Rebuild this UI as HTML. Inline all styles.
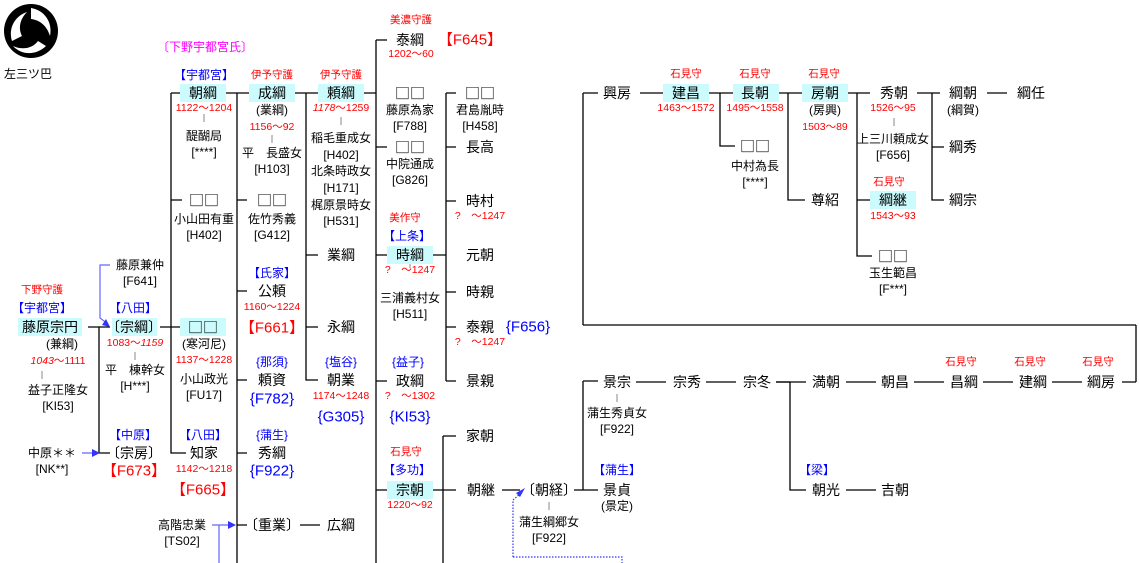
<!DOCTYPE html>
<html><head><meta charset="utf-8">
<style>
html,body{margin:0;padding:0;background:#fff;}
#c{position:relative;width:1139px;height:563px;overflow:hidden;font-family:"Liberation Sans","Noto Sans CJK JP",sans-serif;color:#000;}
#c i{position:absolute;font-style:normal;white-space:nowrap;transform:translate(-50%,-50%);line-height:1;}
.n{font-size:14px;}
.q{font-size:15px;font-family:"Noto Sans CJK JP",sans-serif !important;}
.s{font-size:12px;}
.d{font-size:10.5px;color:#f00;}
.r{color:#f00;}
.b{color:#00f;}
.m{color:#f0f;}
.big{font-size:15px;}
.h{position:absolute;background:#ccfbfe;width:46px;height:18px;}
svg{position:absolute;left:0;top:0;}
</style></head><body><div id="c">
<svg width="1139" height="563">
<circle cx="31" cy="31" r="27" fill="#000"/>
<g fill="#fff">
<path d="M31 8 C44 10 53 22 50 36 C47 26 40 20 31 19 Z"/>
<path d="M12 41 C8 28 15 16 27 12 C20 19 18 28 22 36 Z"/>
<path d="M46 46 C37 55 22 56 13 46 C22 50 32 49 38 41 Z"/>
</g>
<g stroke="#000" stroke-width="1.3" fill="none">
<path d="M171 93H180 M171 93V453H186 M171 200H182"/>
<path d="M160 327H180"/>
<path d="M88 327H110 M99 327V453H110"/>
<path d="M226 93H249 M237 93V563 M237 200H247 M237 291H247 M237 380H247 M237 453H247 M237 525H247"/>
<path d="M300 525H320"/>
<path d="M295 93H318 M306 93V380H318 M306 255H318 M306 327H318"/>
<path d="M364 93H376 M376 40V563 M376 40H387 M376 147H387 M376 255H387 M376 381H387 M376 490H387"/>
<path d="M433 255H446 M446 93V381 M446 93H456 M446 147H456 M446 201H456 M446 292H456 M446 327H456 M446 381H456"/>
<path d="M433 490H443 M443 436V563 M443 436H456 M443 490H456"/>
<path d="M502 490H520 M574 490H583 M583 381V490 M583 381H598 M583 490H598"/>
<path d="M636 382H666 M706 382H736 M776 382H806 M846 382H876 M914 382H944 M983 382H1013 M1052 382H1082 M1122 382H1136 M1136 325V382 M583 325H1136 M583 93V325 M583 93H598"/>
<path d="M776 382H790 M790 382V490H806 M846 490H876"/>
<path d="M640 93H663 M709 93H733 M720 93V146H735 M778 93H802 M788 93V200H805 M847 93H870 M857 93V256H872 M857 200H870 M917 93H940 M932 93V200H944 M932 147H944 M987 93H1007"/>
</g>
<g stroke="#888" stroke-width="1">
<path d="M204 114V122 M272 135V143 M341 117V125 M42 371V379 M135 352V360 M410 260V268 M549 502V510 M617 394V402 M894 118V126"/>
</g>
<g stroke="#66f" stroke-width="1.2" fill="none">
<path d="M110 265H100V318L108 324"/>
<path d="M82 453H96 M212 525H230 M219 525V563"/>
<path d="M513 557V500L520 494 M513 557H622V563" stroke-dasharray="1.5,1.5" stroke="#33f"/>
</g>
<g fill="#33f">
<path d="M110 327L102 325L106 319Z"/>
<path d="M100 453L92 449V457Z"/>
<path d="M236 525L228 521V529Z"/>
<path d="M525 488L516 493L520 497Z"/>
</g>
</svg>

<div class="h" style="left:180px;top:84px"></div>
<div class="h" style="left:249px;top:84px"></div>
<div class="h" style="left:318px;top:84px"></div>
<div class="h" style="left:180px;top:318px"></div>
<div class="h" style="left:18px;top:318px;width:64px"></div>
<div class="h" style="left:112px;top:318px;width:45px"></div>
<div class="h" style="left:387px;top:246px"></div>
<div class="h" style="left:387px;top:481px"></div>
<div class="h" style="left:663px;top:84px"></div>
<div class="h" style="left:733px;top:84px"></div>
<div class="h" style="left:802px;top:84px"></div>
<div class="h" style="left:870px;top:191px"></div>

<i class="s" style="left:28px;top:74px">左三ツ巴</i>
<i class="s m" style="left:205px;top:47px">〔下野宇都宮氏〕</i>

<i class="s b" style="left:204px;top:75px">【宇都宮】</i>
<i class="n" style="left:203px;top:93px">朝綱</i>
<i class="d" style="left:204px;top:108px">1122～1204</i>
<i class="s" style="left:204px;top:136px">醍醐局</i>
<i class="s" style="left:204px;top:152px">[****]</i>
<i class="q" style="left:204px;top:200px">□□</i>
<i class="s" style="left:204px;top:219px">小山田有重</i>
<i class="s" style="left:204px;top:235px">[H402]</i>
<i class="q" style="left:203px;top:327px">□□</i>
<i class="s" style="left:204px;top:344px">(寒河尼)</i>
<i class="d" style="left:204px;top:360px">1137～1228</i>
<i class="s" style="left:204px;top:379px">小山政光</i>
<i class="s" style="left:204px;top:395px">[FU17]</i>
<i class="s b" style="left:203px;top:435px">【八田】</i>
<i class="n" style="left:204px;top:453px">知家</i>
<i class="d" style="left:204px;top:469px">1142～1218</i>
<i class="big r" style="left:203px;top:490px">【F665】</i>

<i class="s" style="left:140px;top:265px">藤原兼仲</i>
<i class="s" style="left:140px;top:281px">[F641]</i>
<i class="d" style="left:42px;top:290px">下野守護</i>
<i class="s b" style="left:42px;top:308px">【宇都宮】</i>
<i class="n" style="left:50px;top:327px">藤原宗円</i>
<i class="s" style="left:62px;top:344px">(兼綱)</i>
<i class="d" style="left:58px;top:361px"><em>1043</em>～1111</i>
<i class="s" style="left:58px;top:390px">益子正隆女</i>
<i class="s" style="left:58px;top:406px">[KI53]</i>
<i class="s b" style="left:133px;top:308px">【八田】</i>
<i class="n" style="left:134px;top:327px">〔宗綱〕</i>
<i class="d" style="left:135px;top:343px">1083～<em>1159</em></i>
<i class="s" style="left:135px;top:370px">平　棟幹女</i>
<i class="s" style="left:135px;top:386px">[H***]</i>
<i class="s b" style="left:133px;top:435px">【中原】</i>
<i class="n" style="left:134px;top:453px">〔宗房〕</i>
<i class="big r" style="left:134px;top:471px">【F673】</i>
<i class="s" style="left:52px;top:453px">中原＊＊</i>
<i class="s" style="left:52px;top:469px">[NK**]</i>
<i class="s" style="left:182px;top:525px">高階忠業</i>
<i class="s" style="left:182px;top:541px">[TS02]</i>

<i class="d" style="left:272px;top:75px">伊予守護</i>
<i class="n" style="left:272px;top:93px">成綱</i>
<i class="s" style="left:272px;top:110px">(業綱)</i>
<i class="d" style="left:272px;top:127px">1156～92</i>
<i class="s" style="left:272px;top:153px">平　長盛女</i>
<i class="s" style="left:272px;top:169px">[H103]</i>
<i class="q" style="left:272px;top:200px">□□</i>
<i class="s" style="left:272px;top:219px">佐竹秀義</i>
<i class="s" style="left:272px;top:235px">[G412]</i>
<i class="s b" style="left:272px;top:273px">【氏家】</i>
<i class="n" style="left:272px;top:291px">公頼</i>
<i class="d" style="left:272px;top:307px">1160～1224</i>
<i class="big r" style="left:272px;top:328px">【F661】</i>
<i class="s b" style="left:272px;top:362px">{那須}</i>
<i class="n" style="left:272px;top:380px">頼資</i>
<i class="big b" style="left:272px;top:399px">{F782}</i>
<i class="s b" style="left:272px;top:435px">{蒲生}</i>
<i class="n" style="left:272px;top:453px">秀綱</i>
<i class="big b" style="left:272px;top:471px">{F922}</i>
<i class="n" style="left:272px;top:525px">〔重業〕</i>
<i class="n" style="left:341px;top:525px">広綱</i>

<i class="d" style="left:341px;top:75px">伊予守護</i>
<i class="n" style="left:341px;top:93px">頼綱</i>
<i class="d" style="left:341px;top:108px"><em>1178</em>～1259</i>
<i class="s" style="left:341px;top:138px">稲毛重成女</i>
<i class="s" style="left:341px;top:155px">[H402]</i>
<i class="s" style="left:341px;top:171px">北条時政女</i>
<i class="s" style="left:341px;top:188px">[H171]</i>
<i class="s" style="left:341px;top:205px">梶原景時女</i>
<i class="s" style="left:341px;top:221px">[H531]</i>
<i class="n" style="left:341px;top:255px">業綱</i>
<i class="n" style="left:341px;top:327px">永綱</i>
<i class="s b" style="left:341px;top:362px">{塩谷}</i>
<i class="n" style="left:341px;top:380px">朝業</i>
<i class="d" style="left:341px;top:396px">1174～1248</i>
<i class="big b" style="left:341px;top:417px">{G305}</i>

<i class="d" style="left:411px;top:20px">美濃守護</i>
<i class="n" style="left:410px;top:40px">泰綱</i>
<i class="big r" style="left:470px;top:40px">【F645】</i>
<i class="d" style="left:411px;top:54px">1202～60</i>
<i class="q" style="left:410px;top:93px">□□</i>
<i class="s" style="left:410px;top:110px">藤原為家</i>
<i class="s" style="left:410px;top:126px">[F788]</i>
<i class="q" style="left:410px;top:147px">□□</i>
<i class="s" style="left:410px;top:164px">中院通成</i>
<i class="s" style="left:410px;top:180px">[G826]</i>
<i class="d" style="left:405px;top:218px">美作守</i>
<i class="s b" style="left:407px;top:236px">【上条】</i>
<i class="n" style="left:410px;top:255px">時綱</i>
<i class="d" style="left:410px;top:270px">?　～1247</i>
<i class="s" style="left:410px;top:298px">三浦義村女</i>
<i class="s" style="left:410px;top:314px">[H511]</i>
<i class="s b" style="left:408px;top:362px">{益子}</i>
<i class="n" style="left:410px;top:381px">政綱</i>
<i class="d" style="left:410px;top:396px">?　～1302</i>
<i class="big b" style="left:410px;top:417px">{KI53}</i>
<i class="d" style="left:406px;top:452px">石見守</i>
<i class="s b" style="left:407px;top:470px">【多功】</i>
<i class="n" style="left:410px;top:490px">宗朝</i>
<i class="d" style="left:410px;top:505px">1220～92</i>

<i class="q" style="left:480px;top:93px">□□</i>
<i class="s" style="left:480px;top:110px">君島胤時</i>
<i class="s" style="left:480px;top:126px">[H458]</i>
<i class="n" style="left:480px;top:147px">長高</i>
<i class="n" style="left:480px;top:201px">時村</i>
<i class="d" style="left:480px;top:216px">?　～1247</i>
<i class="n" style="left:480px;top:255px">元朝</i>
<i class="n" style="left:480px;top:292px">時親</i>
<i class="n" style="left:480px;top:327px">泰親</i>
<i class="big b" style="left:528px;top:327px">{F656}</i>
<i class="d" style="left:480px;top:342px">?　～1247</i>
<i class="n" style="left:480px;top:381px">景親</i>
<i class="n" style="left:480px;top:436px">家朝</i>
<i class="n" style="left:481px;top:490px">朝継</i>
<i class="n" style="left:549px;top:490px">〔朝経〕</i>
<i class="s" style="left:549px;top:522px">蒲生綱郷女</i>
<i class="s" style="left:549px;top:538px">[F922]</i>

<i class="n" style="left:617px;top:382px">景宗</i>
<i class="s" style="left:617px;top:413px">蒲生秀貞女</i>
<i class="s" style="left:617px;top:429px">[F922]</i>
<i class="s b" style="left:617px;top:470px">【蒲生】</i>
<i class="n" style="left:617px;top:490px">景貞</i>
<i class="s" style="left:617px;top:506px">(景定)</i>
<i class="n" style="left:687px;top:382px">宗秀</i>
<i class="n" style="left:757px;top:382px">宗冬</i>
<i class="n" style="left:826px;top:382px">満朝</i>
<i class="n" style="left:895px;top:382px">朝昌</i>
<i class="d" style="left:961px;top:362px">石見守</i>
<i class="n" style="left:964px;top:382px">昌綱</i>
<i class="d" style="left:1030px;top:362px">石見守</i>
<i class="n" style="left:1033px;top:382px">建綱</i>
<i class="d" style="left:1098px;top:362px">石見守</i>
<i class="n" style="left:1101px;top:382px">綱房</i>
<i class="s b" style="left:817px;top:470px">【梁】</i>
<i class="n" style="left:826px;top:490px">朝光</i>
<i class="n" style="left:895px;top:490px">吉朝</i>

<i class="n" style="left:617px;top:93px">興房</i>
<i class="d" style="left:686px;top:74px">石見守</i>
<i class="n" style="left:686px;top:93px">建昌</i>
<i class="d" style="left:686px;top:108px">1463～1572</i>
<i class="d" style="left:755px;top:74px">石見守</i>
<i class="n" style="left:755px;top:93px">長朝</i>
<i class="d" style="left:755px;top:108px">1495～1558</i>
<i class="q" style="left:755px;top:146px">□□</i>
<i class="s" style="left:755px;top:166px">中村為長</i>
<i class="s" style="left:755px;top:182px">[****]</i>
<i class="d" style="left:824px;top:74px">石見守</i>
<i class="n" style="left:825px;top:93px">房朝</i>
<i class="s" style="left:825px;top:110px">(房興)</i>
<i class="d" style="left:825px;top:127px">1503～89</i>
<i class="n" style="left:825px;top:200px">尊紹</i>
<i class="n" style="left:894px;top:93px">秀朝</i>
<i class="d" style="left:893px;top:108px">1526～95</i>
<i class="s" style="left:893px;top:139px">上三川頼成女</i>
<i class="s" style="left:893px;top:155px">[F656]</i>
<i class="d" style="left:889px;top:182px">石見守</i>
<i class="n" style="left:893px;top:200px">綱継</i>
<i class="d" style="left:893px;top:216px">1543～93</i>
<i class="q" style="left:893px;top:256px">□□</i>
<i class="s" style="left:893px;top:273px">玉生範昌</i>
<i class="s" style="left:893px;top:289px">[F***]</i>
<i class="n" style="left:963px;top:93px">綱朝</i>
<i class="s" style="left:963px;top:110px">(綱賀)</i>
<i class="n" style="left:963px;top:147px">綱秀</i>
<i class="n" style="left:963px;top:200px">綱宗</i>
<i class="n" style="left:1031px;top:93px">綱任</i>
</div></body></html>
